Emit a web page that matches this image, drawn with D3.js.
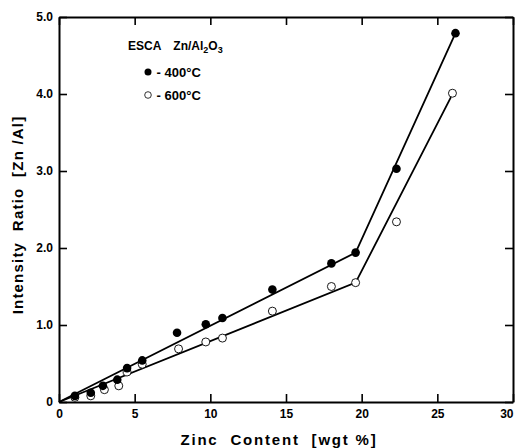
<!DOCTYPE html>
<html><head><meta charset="utf-8">
<script src="https://cdn.jsdelivr.net/npm/d3@7"></script>
<style>body{margin:0;background:#fff}svg{display:block}text{white-space:pre}</style>
</head><body>
<script>
// Data
const x400 = [1.05, 2.1, 2.9, 3.85, 4.5, 5.5, 7.8, 9.7, 10.8, 14.1, 18.0, 19.6, 22.3, 26.2];
const y400 = [0.08, 0.12, 0.21, 0.29, 0.44, 0.54, 0.90, 1.01, 1.09, 1.46, 1.80, 1.94, 3.03, 4.79];
const x600 = [1.05, 2.1, 3.0, 3.95, 4.5, 5.5, 7.9, 9.7, 10.8, 14.1, 18.0, 19.6, 22.3, 26.0];
const y600 = [0.06, 0.08, 0.16, 0.21, 0.39, 0.49, 0.69, 0.78, 0.83, 1.18, 1.50, 1.55, 2.34, 4.01];
const fitX400 = [0, 19.6, 26.2];
const fitY400 = [0, 1.94, 4.79];
const fitX600 = [0, 19.6, 25.9];
const fitY600 = [0, 1.55, 3.96];
const xTicks = [0, 5, 10, 15, 20, 25, 30];
const yTicks = [0, 1, 2, 3, 4, 5];
const yTickLabels = ["0", "1.0", "2.0", "3.0", "4.0", "5.0"];

const W = 516, H = 448;
const m = {l: 59, r: 3, t: 17, b: 46};
const svg = d3.select("body").append("svg").attr("width", W).attr("height", H)
  .style("font-family", "'Liberation Sans', Arial, sans-serif");
const x = d3.scaleLinear().domain([0, 30]).range([m.l, W - m.r]);
const y = d3.scaleLinear().domain([0, 5]).range([H - m.b, m.t]);

// Axes with inward ticks
const fmtY = d => yTickLabels[yTicks.indexOf(d)];
const gB = svg.append("g").attr("transform", `translate(0,${y(0)})`)
  .call(d3.axisBottom(x).tickValues(xTicks).tickSizeInner(-8).tickSizeOuter(0).tickPadding(12).tickFormat(d3.format("d")));
const gL = svg.append("g").attr("transform", `translate(${x(0)},0)`)
  .call(d3.axisLeft(y).tickValues(yTicks).tickSizeInner(-8).tickSizeOuter(0).tickPadding(12).tickFormat(fmtY));
const gT = svg.append("g").attr("transform", `translate(0,${y(5)})`)
  .call(d3.axisTop(x).tickValues(xTicks).tickSizeInner(-8).tickSizeOuter(0).tickFormat(""));
const gR = svg.append("g").attr("transform", `translate(${x(30)},0)`)
  .call(d3.axisRight(y).tickValues(yTicks).tickSizeInner(-8).tickSizeOuter(0).tickFormat(""));
[gB, gL, gT, gR].forEach(g => {
  g.selectAll(".domain").attr("stroke", "#000").attr("stroke-width", 2);
  g.selectAll(".tick line").attr("stroke", "#000").attr("stroke-width", 1.6);
  g.selectAll("text").attr("fill", "#000").attr("font-weight", "bold").attr("font-size", 12);
});
gB.selectAll(".tick text").attr("dy", "0.35em")
  .filter(d => d === 30).attr("text-anchor", "end").attr("dx", 0);
gL.selectAll(".tick text").attr("dx", "6");

// Fit lines
const line = d3.line().x(d => x(d[0])).y(d => y(d[1]));
svg.append("path").datum(d3.zip(fitX400, fitY400)).attr("d", line)
  .attr("fill", "none").attr("stroke", "#000").attr("stroke-width", 1.8);
svg.append("path").datum(d3.zip(fitX600, fitY600)).attr("d", line)
  .attr("fill", "none").attr("stroke", "#000").attr("stroke-width", 1.8);

// Points
svg.append("g").selectAll("circle").data(d3.zip(x600, y600)).join("circle")
  .attr("cx", d => x(d[0])).attr("cy", d => y(d[1])).attr("r", 4)
  .attr("fill", "#fff").attr("stroke", "#000").attr("stroke-width", 0.9);
svg.append("g").selectAll("circle").data(d3.zip(x400, y400)).join("circle")
  .attr("cx", d => x(d[0])).attr("cy", d => y(d[1])).attr("r", 4.3)
  .attr("fill", "#000");

// Legend
const lg = svg.append("g").attr("font-weight", "bold").attr("fill", "#000");
const t1 = lg.append("text").attr("x", 128).attr("y", 50).attr("font-size", 12);
t1.append("tspan").text("ESCA");
t1.append("tspan").attr("dx", 12).text("Zn/Al");
t1.append("tspan").attr("font-size", 9).attr("dy", 3).text("2");
t1.append("tspan").attr("dy", -3).text("O");
t1.append("tspan").attr("font-size", 9).attr("dy", 3).text("3");
lg.append("circle").attr("cx", 148).attr("cy", 72).attr("r", 3.5).attr("fill", "#000");
lg.append("text").attr("x", 153).attr("y", 77).attr("font-size", 13).text(" - 400°C");
lg.append("circle").attr("cx", 148).attr("cy", 95).attr("r", 3.3).attr("fill", "#fff").attr("stroke", "#000").attr("stroke-width", 0.8);
lg.append("text").attr("x", 153).attr("y", 100).attr("font-size", 13).text(" - 600°C");

// Axis titles
svg.append("text").attr("x", 279).attr("y", 445).attr("text-anchor", "middle")
  .attr("font-weight", "bold").attr("font-size", 15).attr("letter-spacing", 1.8)
  .text("Zinc  Content  [wgt %]");
svg.append("text").attr("transform", "translate(23,215) rotate(-90)").attr("text-anchor", "middle")
  .attr("font-weight", "bold").attr("font-size", 15).attr("letter-spacing", 1.2)
  .text("Intensity  Ratio  [Zn /Al]");
</script>
</body></html>
